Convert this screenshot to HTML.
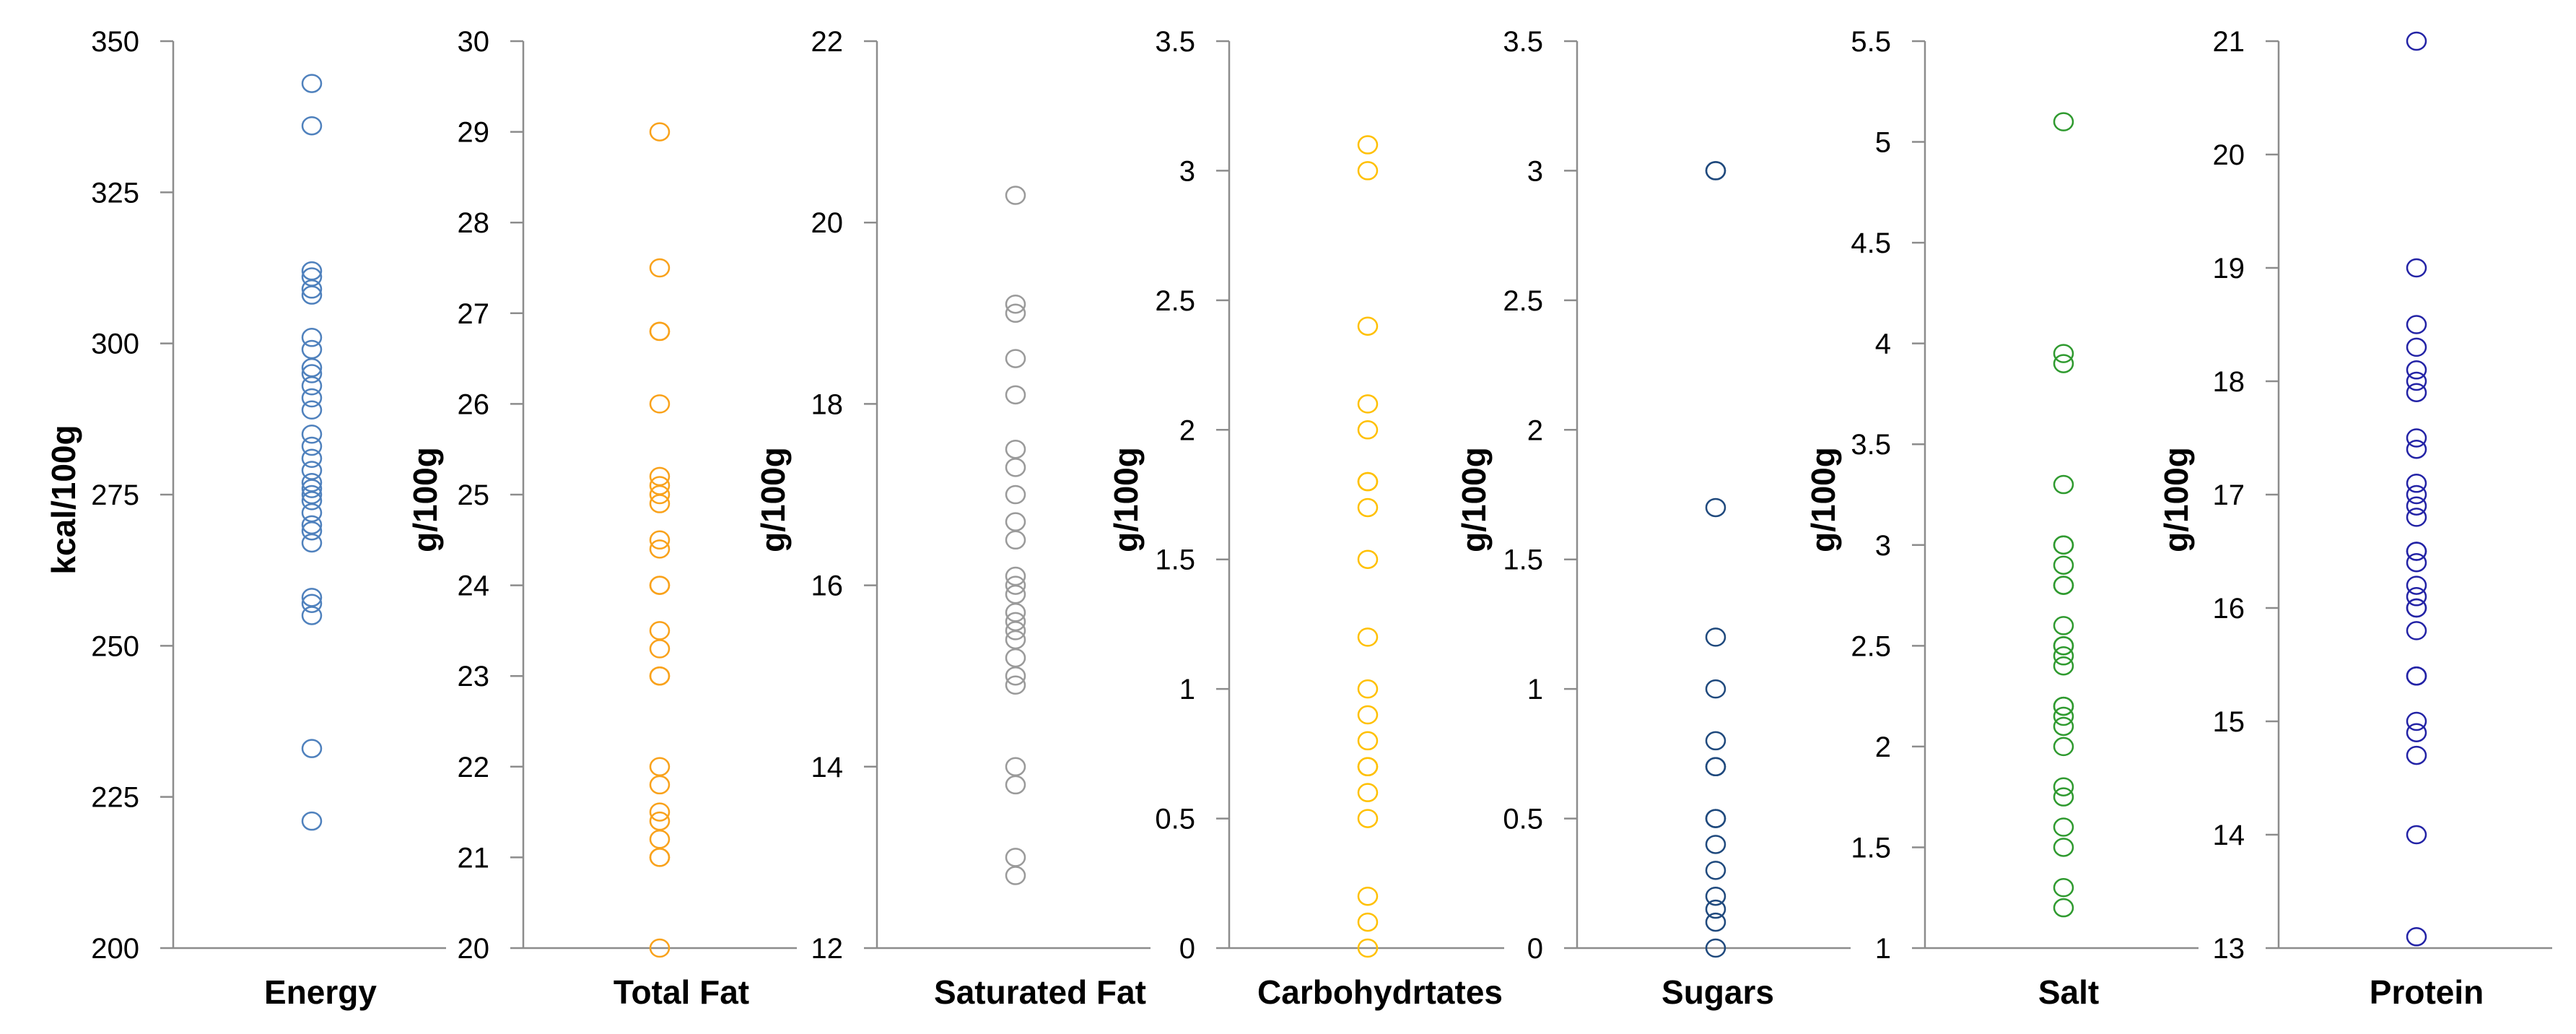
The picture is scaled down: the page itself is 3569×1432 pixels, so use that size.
<!DOCTYPE html>
<html><head><meta charset="utf-8"><style>
html,body{margin:0;padding:0;background:#fff}
svg{display:block}
text{font-family:"Liberation Sans",sans-serif}
</style></head><body>
<svg id="chart" width="3569" height="1432" viewBox="0 0 3569 1432" xmlns="http://www.w3.org/2000/svg"></svg>
<script>
const categories = ["Energy","Total Fat","Saturated Fat","Carbohydrtates","Sugars","Salt","Protein"];
const yTitles = ["kcal/100g","g/100g","g/100g","g/100g","g/100g","g/100g","g/100g"];
const energyValues = [343,336,312,311,309,308,301,299,296,295,293,291,289,285,283,281,279,277,276,275,274,272,270,269,267,258,257,255,233,221];
const totalFatValues = [29,27.5,26.8,26.8,26,25.2,25.1,25,24.9,24.5,24.4,24,24,23.5,23.3,23,23,22,21.8,21.5,21.4,21.2,21,21,20];
const satFatValues = [20.3,19.1,19,18.5,18.1,17.5,17.3,17,16.7,16.5,16.1,16,15.9,15.7,15.6,15.5,15.4,15.2,15,14.9,14,13.8,13,12.8];
const carbValues = [3.1,3,2.4,2.1,2,1.8,1.8,1.7,1.5,1.2,1,0.9,0.8,0.7,0.7,0.6,0.5,0.2,0.1,0];
const sugarValues = [3,3,1.7,1.2,1,0.8,0.7,0.7,0.5,0.5,0.4,0.3,0.2,0.15,0.1,0];
const saltValues = [5.1,3.95,3.9,3.3,3,3,2.9,2.8,2.8,2.6,2.5,2.5,2.45,2.4,2.2,2.2,2.15,2.1,2,1.8,1.75,1.6,1.5,1.3,1.2];
const proteinValues = [21,19,18.5,18.3,18.1,18,17.9,17.5,17.4,17.1,17,16.9,16.8,16.5,16.5,16.4,16.2,16.1,16,16,15.8,15.4,15.4,15,14.9,14.7,14,13.1];
const energyTicks = [200,225,250,275,300,325,350];
const totalFatTicks = [20,21,22,23,24,25,26,27,28,29,30];
const satFatTicks = [12,14,16,18,20,22];
const carbTicks = [0,0.5,1,1.5,2,2.5,3,3.5];
const sugarTicks = [0,0.5,1,1.5,2,2.5,3,3.5];
const saltTicks = [1,1.5,2,2.5,3,3.5,4,4.5,5,5.5];
const proteinTicks = [13,14,15,16,17,18,19,20,21];

const series=[energyValues,totalFatValues,satFatValues,carbValues,sugarValues,saltValues,proteinValues];
const ticks=[energyTicks,totalFatTicks,satFatTicks,carbTicks,sugarTicks,saltTicks,proteinTicks];
const colors=["#4f81bd","#f9a21b","#9a9a9a","#ffc000","#1f497d","#2f9a2f","#2323a6"];
const axisX=[240,725,1215,1703,2185,2667,3157];
const axisEnd=[618,1104,1594,2084,2564,3046,3536];
const ptX=[432,914,1407,1895,2377,2859,3348];
const catX=[444,944,1441,1912,2380,2866,3362];
const yTitleX=[88,589,1071,1560,2042,2526,3015];
const topY=57,botY=1313;
const NS="http://www.w3.org/2000/svg";
const svgEl=document.getElementById('chart');
function mk(tag,attrs,parent){const e=document.createElementNS(NS,tag);for(const k in attrs)e.setAttribute(k,attrs[k]);(parent||svgEl).appendChild(e);return e;}
for(let i=0;i<7;i++){
  const t=ticks[i],mn=t[0],mx=t[t.length-1];
  const y=v=>botY-(v-mn)/(mx-mn)*(botY-topY);
  const g=mk('g',{});
  
  
  const ax=mk('line',{x1:axisX[i],y1:topY,x2:axisX[i],y2:botY,stroke:'#8c8c8c','stroke-width':2.5},g);
  
  
  const bx=mk('line',{x1:axisX[i],y1:botY,x2:axisEnd[i],y2:botY,stroke:'#8c8c8c','stroke-width':2.5},g);
  
  
  t.forEach(v=>{
    const tk=mk('line',{x1:axisX[i]-18,y1:y(v),x2:axisX[i],y2:y(v),stroke:'#8c8c8c','stroke-width':2.5},g);
    
    
    const tl=mk('text',{x:axisX[i]-47,y:y(v)+14,'text-anchor':'end','font-size':40,fill:'#000'},g);
    
    
    tl.textContent=String(v);
  });
  const yt=mk('text',{x:0,y:0,'text-anchor':'middle','font-size':46,'font-weight':'bold',fill:'#000',transform:`translate(${yTitleX[i]+16},692) rotate(-90)`},g);
  
  
  yt.textContent=yTitles[i];
  const ct=mk('text',{x:catX[i],y:1390,'text-anchor':'middle','font-size':46,'font-weight':'bold',fill:'#000'},g);
  
  
  ct.textContent=categories[i];
  series[i].forEach(v=>{
    const c=mk('ellipse',{cx:ptX[i],cy:y(v),rx:13,ry:12,fill:'none',stroke:colors[i],'stroke-width':2.5},g);
    
    
  });
}
</script>
</body></html>
